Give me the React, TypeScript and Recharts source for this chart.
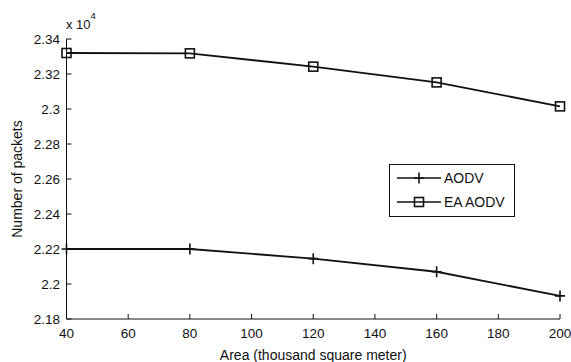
import React from 'react';
import { LineChart, Line, XAxis, YAxis, Legend, Label } from 'recharts';

// area in thousand square meters
const areas = [40, 80, 120, 160, 200];
// number of packets
const aodv = [22200, 22200, 22145, 22070, 21932];
const eaAodv = [23320, 23318, 23242, 23152, 23015];

const xTicks = [40, 60, 80, 100, 120, 140, 160, 180, 200];
const yTicks = [21800, 22000, 22200, 22400, 22600, 22800, 23000, 23200, 23400];

const data = areas.map((area, i) => ({ area, aodv: aodv[i], eaAodv: eaAodv[i] }));

const FONT = '"Liberation Sans", Arial, sans-serif';
const INK = '#111';

const fmtY = (v: number) => String(+(v / 10000).toFixed(2));

const PlusDot = (props: any) => {
  const { cx, cy } = props;
  return (
    <path
      key={`p-${cx}-${cy}`}
      d={`M${cx - 5},${cy}H${cx + 5}M${cx},${cy - 5.5}V${cy + 5.5}`}
      stroke={INK}
      strokeWidth={1.6}
      fill="none"
    />
  );
};

const SquareDot = (props: any) => {
  const { cx, cy } = props;
  return (
    <rect
      key={`s-${cx}-${cy}`}
      x={cx - 4.5}
      y={cy - 4.5}
      width={9}
      height={9}
      stroke={INK}
      strokeWidth={1.6}
      fill="none"
    />
  );
};

const LegendBox = () => (
  <svg width={126} height={53} style={{ display: 'block' }}>
    <rect x={0.5} y={0.5} width={125} height={52} fill="#fff" stroke={INK} />
    <line x1={8} x2={52} y1={14} y2={14} stroke={INK} strokeWidth={1.6} />
    <path d="M25,14H35M30,8.5V19.5" stroke={INK} strokeWidth={1.6} />
    <text x={55} y={19} fontSize={14} fontFamily={FONT} fill={INK}>AODV</text>
    <line x1={8} x2={52} y1={38} y2={38} stroke={INK} strokeWidth={1.6} />
    <rect x={25.5} y={33.5} width={9} height={9} stroke={INK} strokeWidth={1.6} fill="none" />
    <text x={55} y={43} fontSize={14} fontFamily={FONT} fill={INK}>EA AODV</text>
  </svg>
);

const tickStyle = { fontSize: 13.5, fontFamily: FONT, fill: INK };

export default function App() {
  return (
    <div style={{ position: 'absolute', left: 0, top: 0, background: '#fff' }}>
      <LineChart
        width={571}
        height={362}
        data={data}
        margin={{ top: 39, right: 11, bottom: 0, left: 0 }}
      >
        <XAxis
          dataKey="area"
          type="number"
          domain={[40, 200]}
          ticks={xTicks}
          height={43}
          tickSize={-5}
          tickMargin={14}
          tick={tickStyle}
          axisLine={{ stroke: INK }}
          tickLine={{ stroke: INK }}
        >
          <Label
            value="Area (thousand square meter)"
            position="insideBottom"
            offset={2}
            style={{ fontSize: 14, fontFamily: FONT, fill: INK }}
          />
        </XAxis>
        <XAxis
          xAxisId="top"
          orientation="top"
          dataKey="area"
          type="number"
          domain={[40, 200]}
          ticks={xTicks}
          height={0}
          tick={false}
          tickSize={-5}
          axisLine={{ stroke: INK }}
          tickLine={{ stroke: INK }}
        />
        <YAxis
          type="number"
          domain={[21800, 23400]}
          ticks={yTicks}
          width={66.5}
          tickSize={-5}
          tickMargin={11.5}
          tickFormatter={fmtY}
          tick={tickStyle}
          axisLine={{ stroke: INK }}
          tickLine={{ stroke: INK }}
        >
          <Label
            value="Number of packets"
            angle={-90}
            position="insideLeft"
            offset={17}
            style={{ fontSize: 14, fontFamily: FONT, fill: INK, textAnchor: 'middle' }}
          />
          <Label
            content={() => (
              <text x={66} y={29} fontFamily={FONT} fill={INK} fontSize={13}>
                x 10
                <tspan dy={-10} fontSize={9.5}>4</tspan>
              </text>
            )}
          />
        </YAxis>
        <YAxis
          yAxisId="right"
          orientation="right"
          type="number"
          domain={[21800, 23400]}
          ticks={yTicks}
          width={0}
          tick={false}
          tickSize={-5}
          axisLine={{ stroke: INK }}
          tickLine={{ stroke: INK }}
        />
        <Legend
          layout="vertical"
          align="center"
          verticalAlign="middle"
          content={() => <LegendBox />}
          wrapperStyle={{ left: 389, top: 164, width: 126, height: 53 }}
        />
        <Line
          dataKey="aodv"
          name="AODV"
          stroke={INK}
          strokeWidth={1.8}
          dot={PlusDot}
          activeDot={false}
          isAnimationActive={false}
        />
        <Line
          dataKey="eaAodv"
          name="EA AODV"
          stroke={INK}
          strokeWidth={1.8}
          dot={SquareDot}
          activeDot={false}
          isAnimationActive={false}
        />
      </LineChart>
    </div>
  );
}
